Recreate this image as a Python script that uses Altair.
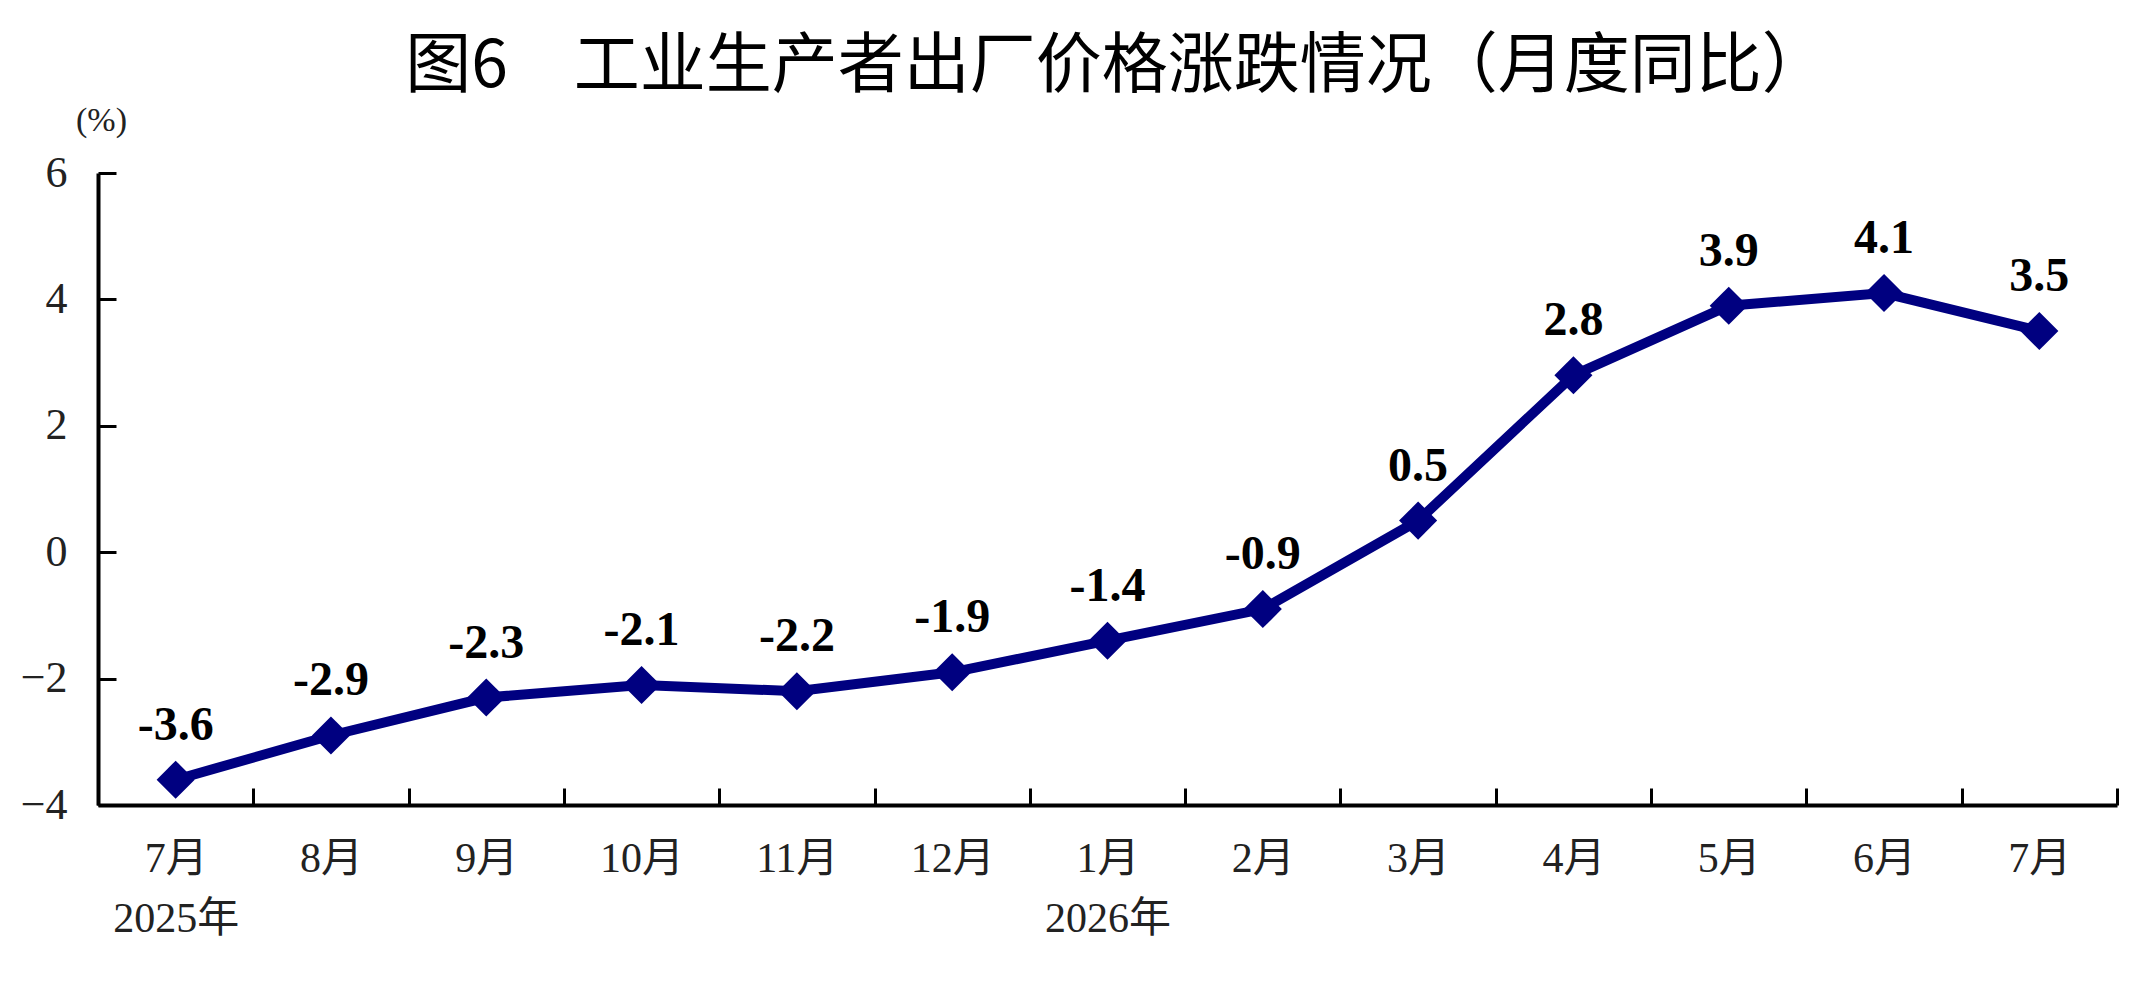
import altair as alt
import pandas as pd

months = ["7月\n2025年", "8月", "9月", "10月", "11月", "12月", "1月\n2026年",
          "2月", "3月", "4月", "5月", "6月", "7月"]
values = [-3.6, -2.9, -2.3, -2.1, -2.2, -1.9, -1.4, -0.9, 0.5, 2.8, 3.9, 4.1, 3.5]
y_ticks = [-4, -2, 0, 2, 4, 6]

df = pd.DataFrame({"month": months, "value": values})
df["label"] = df["value"].map(lambda v: f"{v:.1f}")

NAVY = "#000080"
SERIF = "Liberation Serif, Times New Roman, Noto Sans CJK SC"

x_enc = alt.X(
    "month:N", sort=months,
    scale=alt.Scale(paddingInner=0, paddingOuter=0),
    axis=alt.Axis(
        title=None, labelAngle=0, labelExpr="split(datum.label, '\\n')",
        labelFont=SERIF, labelFontSize=42, labelColor="#222222",
        labelLineHeight=60, labelPadding=50, labelBaseline="top",
        tickBand="extent", tickSize={"expr": "-17"}, tickWidth=3, tickColor="black",
        domainColor="black", domainWidth=4, grid=False,
    ),
)
y_enc = alt.Y(
    "value:Q",
    scale=alt.Scale(domain=[-4, 6], nice=False, zero=False),
    axis=alt.Axis(
        values=y_ticks, format="d", title="(%)", titleAngle=0, titleAlign="center",
        titleBaseline="middle", titleX=3, titleY=-53, titleFont=SERIF,
        titleFontSize=34, titleFontWeight="normal", titleColor="#222222",
        labelFont=SERIF, labelFontSize=44, labelColor="#222222", labelPadding=49,
        tickSize={"expr": "-18"}, tickWidth=3, tickColor="black",
        domainColor="black", domainWidth=4, grid=False,
    ),
)

base = alt.Chart(df)
line = base.mark_line(color=NAVY, strokeWidth=10).encode(x=x_enc, y=y_enc)
points = base.mark_point(shape="diamond", filled=True, size=1450, color=NAVY,
                         opacity=1).encode(x=alt.X("month:N", sort=months),
                                           y="value:Q")
labels = base.mark_text(font="Liberation Serif", fontSize=48, fontWeight="bold",
                        color="black", baseline="middle", dy=-54).encode(
    x=alt.X("month:N", sort=months), y="value:Q", text="label:N")

chart = (line + points + labels).properties(
    width=2019, height=632,
    title=alt.TitleParams(
        "图6　工业生产者出厂价格涨跌情况（月度同比）",
        font="Noto Sans CJK SC", fontSize=66, fontWeight="normal",
        color="black", anchor="middle", dx=9, dy=6, offset=8,
    ),
    autosize=alt.AutoSizeParams(type="none"),
    padding={"left": 90, "top": 165, "right": 7, "bottom": 170},
).configure(background="white").configure_view(stroke=None)

chart.save("out.html", embed_options={"renderer": "svg", "actions": False})
